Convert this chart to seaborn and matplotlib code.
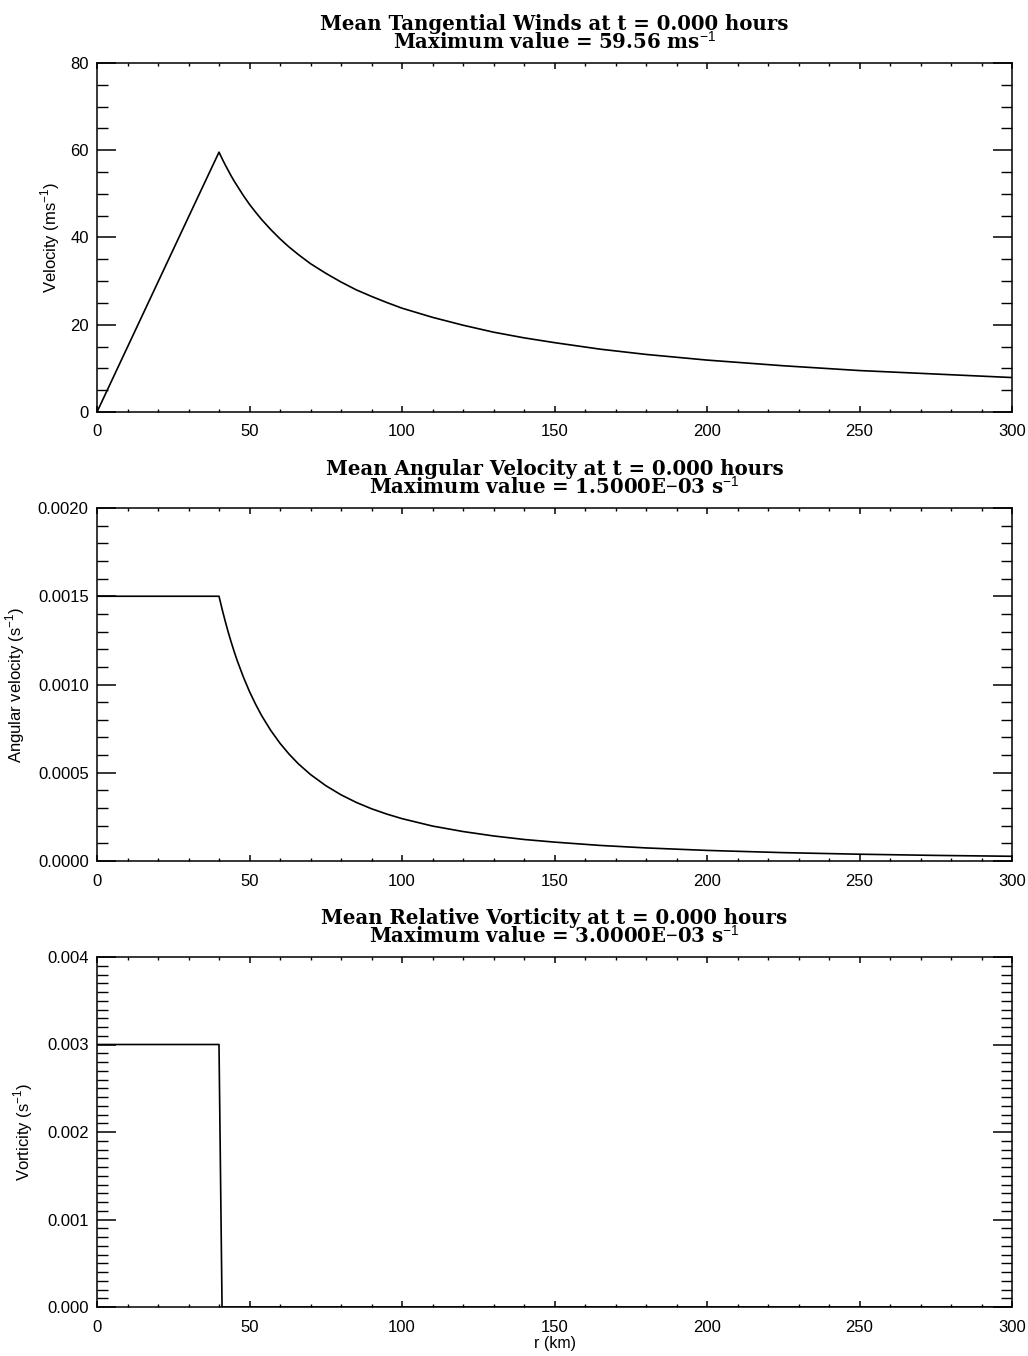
import matplotlib
matplotlib.use("Agg")
import matplotlib.pyplot as plt
import numpy as np
import pandas as pd
import seaborn as sns
from matplotlib.ticker import MultipleLocator, FormatStrFormatter

# radius (km) for wind and angular velocity profiles
r_km = [0, 10, 20, 30, 40, 41, 42, 43, 44, 45, 46, 48,
        50, 52, 54, 57, 60, 63, 66, 70, 75, 80, 85, 90, 95, 100,
        110, 120, 130, 140, 150, 165, 180, 200, 225, 250, 275, 300]
wind = [0.0, 14.9, 29.8, 44.7, 59.56, 58.1, 56.7, 55.4, 54.1, 52.9, 51.8, 49.6,
        47.6, 45.8, 44.1, 41.8, 39.7, 37.8, 36.1, 34.0, 31.8, 29.8, 28.0, 26.5, 25.1, 23.8,
        21.7, 19.9, 18.3, 17.0, 15.9, 14.4, 13.2, 11.9, 10.6, 9.5, 8.7, 7.9]
ang_vel = [0.0015, 0.0015, 0.0015, 0.0015, 0.0015,
           0.001428, 0.001361, 0.001298, 0.001240, 0.001185, 0.001134, 0.001042,
           0.000960, 0.000888, 0.000823, 0.000739, 0.000667, 0.000605, 0.000551,
           0.000490, 0.000427, 0.000375, 0.000332, 0.000296, 0.000266, 0.000240,
           0.000198, 0.000167, 0.000142, 0.000122, 0.000107, 0.0000882,
           0.0000741, 0.0000600, 0.0000474, 0.0000384, 0.0000317, 0.0000267]

# vorticity is a step profile
r_vort = [0, 40, 41, 300]
vort = [0.003, 0.003, 0.0, 0.0]

titles = [
    "Mean Tangential Winds at t = 0.000 hours\nMaximum value = 59.56 ms$^{-1}$",
    "Mean Angular Velocity at t = 0.000 hours\nMaximum value = 1.5000E$-$03 s$^{-1}$",
    "Mean Relative Vorticity at t = 0.000 hours\nMaximum value = 3.0000E$-$03 s$^{-1}$",
]
ylabels = ["Velocity (ms$^{-1}$)", "Angular velocity (s$^{-1}$)", "Vorticity (s$^{-1}$)"]

sns.set_style("white")
plt.rcParams.update({
    "font.family": ["Liberation Sans", "DejaVu Sans"],
    "mathtext.fontset": "custom",
    "mathtext.rm": "Liberation Sans",
    "axes.linewidth": 1.1,
    "axes.edgecolor": "black",
    "text.color": "black",
    "axes.labelcolor": "black",
    "xtick.color": "black",
    "ytick.color": "black",
})

W, H = 1028, 1356
fig = plt.figure(figsize=(W / 100, H / 100), dpi=100)
fig.patch.set_facecolor("white")

left, right = 97, 1012
boxes = [(63, 412), (508, 861), (957, 1307)]
axes = []
for top, bot in boxes:
    ax = fig.add_axes([left / W, 1 - bot / H, (right - left) / W, (bot - top) / H])
    axes.append(ax)

df1 = pd.DataFrame({"r": r_km, "v": wind})
df2 = pd.DataFrame({"r": r_km, "w": ang_vel})
df3 = pd.DataFrame({"r": r_vort, "z": vort})

sns.lineplot(data=df1, x="r", y="v", ax=axes[0], color="black", lw=1.2, sort=False)
sns.lineplot(data=df2, x="r", y="w", ax=axes[1], color="black", lw=1.2, sort=False)
sns.lineplot(data=df3, x="r", y="z", ax=axes[2], color="black", lw=1.2, sort=False)

ylims = [(0, 80), (0, 0.002), (0, 0.004)]
ymaj = [20, 0.0005, 0.001]
ymin = [5, 0.0001, 0.0001]
yfmt = ["%d", "%.4f", "%.3f"]
ylab_x = [-0.038, -0.076, -0.068]

for i, ax in enumerate(axes):
    ax.set_xlim(0, 300)
    ax.set_ylim(*ylims[i])
    ax.xaxis.set_major_locator(MultipleLocator(50))
    ax.xaxis.set_minor_locator(MultipleLocator(10))
    ax.yaxis.set_major_locator(MultipleLocator(ymaj[i]))
    ax.yaxis.set_minor_locator(MultipleLocator(ymin[i]))
    ax.yaxis.set_major_formatter(FormatStrFormatter(yfmt[i]))
    ax.tick_params(axis="x", which="major", direction="in", length=4.5, width=1.1,
                   top=True, bottom=True, labelsize=12, pad=9)
    ax.tick_params(axis="x", which="minor", direction="in", length=2.3, width=1.0,
                   top=True, bottom=True)
    ax.tick_params(axis="y", which="major", direction="in", length=13.5, width=1.1,
                   left=True, right=True, labelsize=12, pad=6)
    ax.tick_params(axis="y", which="minor", direction="in", length=8, width=1.0,
                   left=True, right=True)
    for s in ax.spines.values():
        s.set_visible(True)
        s.set_linewidth(1.1)
    ax.set_xlabel("")
    ax.set_ylabel(ylabels[i], fontsize=12)
    ax.yaxis.set_label_coords(ylab_x[i], 0.5)
    ax.set_title(titles[i], family="DejaVu Serif", fontweight="bold", fontsize=14.2,
                 pad=10, linespacing=0.85)

axes[2].set_xlabel("r (km)", fontsize=11.5, labelpad=1)

fig.savefig("out.png", dpi=100, facecolor="white")
